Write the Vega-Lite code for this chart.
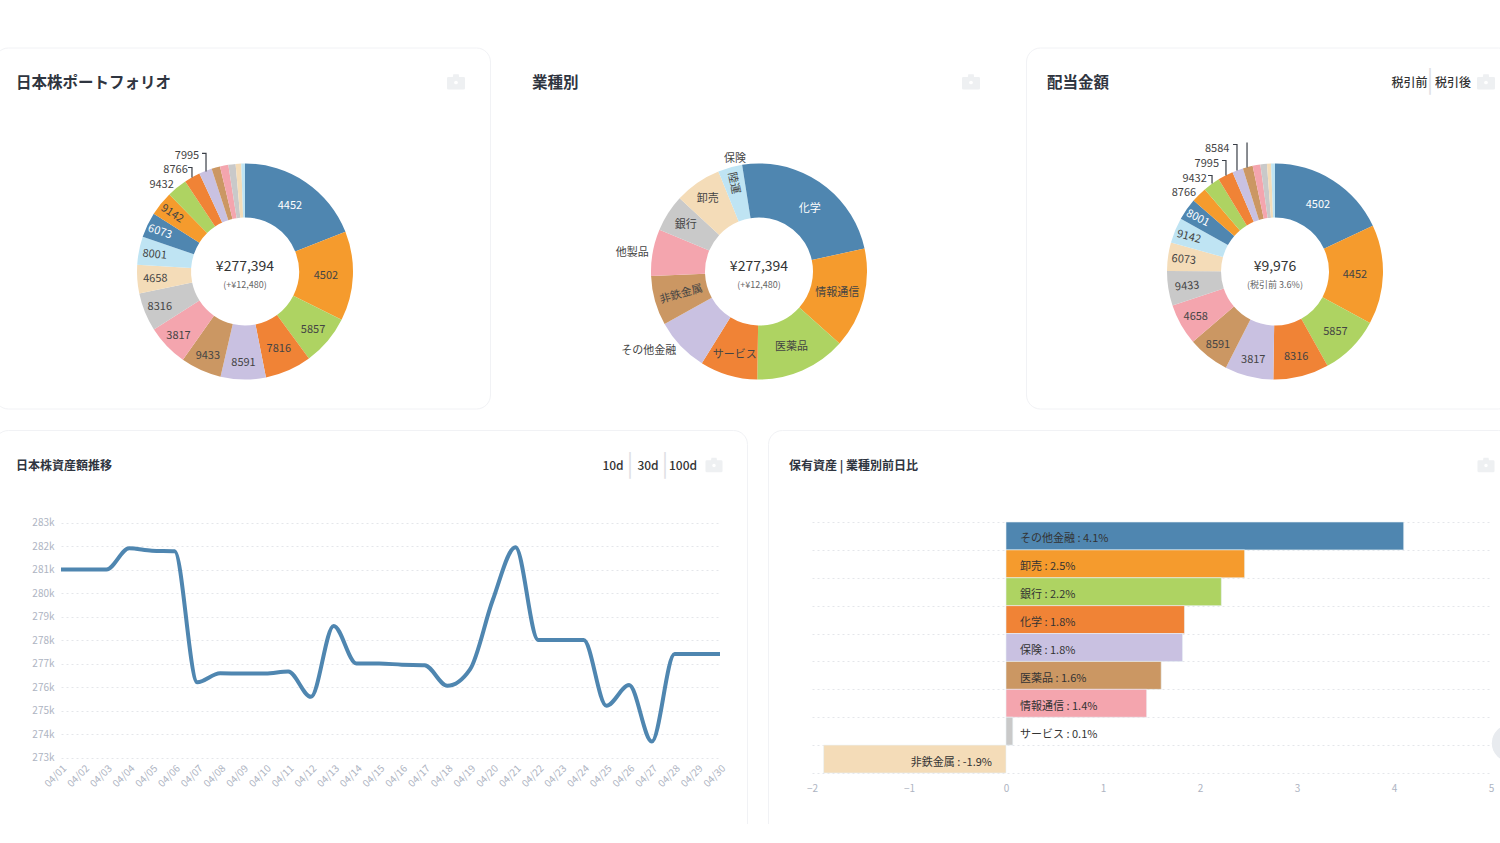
{"$schema":"https://vega.github.io/schema/vega-lite/v6.json","padding":{"left":-7,"right":-14,"top":46.5,"bottom":-16},"background":"white","spacing":19.5,"config":{"font":"Noto Sans CJK JP","range":{"category":["#4f86b0","#f59b2d","#aed362","#f08336","#c9c1e1","#cb9763","#f4a5ae","#c9c9c9","#f4dcb8","#bfe4f3"]},"view":{"fill":"white","stroke":"#f1f2f5","cornerRadius":14},"title":{"anchor":"start","frame":"group","color":"#2f3540","fontWeight":700,"font":"Noto Sans CJK JP"},"text":{"font":"Noto Sans CJK JP"}},"vconcat":[{"hconcat":[{"width":496,"height":361,"title":{"text":"日本株ポートフォリオ","dx":22,"offset":-43.5,"fontSize":15.5},"data":{"values":[{"ord":0,"label":"4452","slot":"c0","v":52700},{"ord":1,"label":"4502","slot":"c1","v":37140},{"ord":2,"label":"5857","slot":"c2","v":20880},{"ord":3,"label":"7816","slot":"c3","v":19340},{"ord":4,"label":"8591","slot":"c4","v":18720},{"ord":5,"label":"9433","slot":"c5","v":16950},{"ord":6,"label":"3817","slot":"c6","v":17260},{"ord":7,"label":"8316","slot":"c7","v":15950},{"ord":8,"label":"4658","slot":"c8","v":11870},{"ord":9,"label":"8001","slot":"c9","v":11630},{"ord":10,"label":"6073","slot":"c0","v":10480},{"ord":11,"label":"9142","slot":"c1","v":10170},{"ord":12,"label":"9432","slot":"c2","v":8400},{"ord":13,"label":"8766","slot":"c3","v":6630},{"ord":14,"label":"7995","slot":"c4","v":5390},{"ord":15,"label":"","slot":"c5","v":3540},{"ord":16,"label":"","slot":"c6","v":3470},{"ord":17,"label":"","slot":"c7","v":3000},{"ord":18,"label":"","slot":"c8","v":2310},{"ord":19,"label":"","slot":"c9","v":1540}]},"layer":[{"mark":{"type":"arc","radius":108,"radius2":54,"xOffset":3,"yOffset":43.5},"encoding":{"theta":{"field":"v","type":"quantitative","stack":true},"order":{"field":"ord"},"color":{"field":"slot","type":"nominal","legend":null}}},{"mark":{"type":"text","fontSize":11,"baseline":"middle","xOffset":3,"yOffset":43.5,"dy":1,"radius":{"expr":"({'4452':80,'4502':81,'5857':89,'7816':84,'8591':91,'9433':91,'3817':92,'8316':92,'4658':90,'8001':92,'6073':94,'9142':93,'9432':113,'8766':117,'7995':125})[datum.label]||90"},"angle":{"expr":"({'9142':33,'6073':18,'8001':6,'4658':358})[datum.label]||0"},"align":{"expr":"indexof(['9432','8766','7995'],datum.label)>=0?'right':'center'"},"fill":{"expr":"indexof(['4452','6073'],datum.label)>=0?'#ffffff':'#444444'"}},"encoding":{"theta":{"field":"v","type":"quantitative","stack":true},"order":{"field":"ord"},"text":{"field":"label"}}},{"data":{"values":[{"k":"a","s":0,"lx":-0.528,"ly":0.963},{"k":"a","s":1,"lx":-0.491,"ly":0.963},{"k":"a","s":2,"lx":-0.491,"ly":0.87},{"k":"b","s":0,"lx":-0.398,"ly":1.093},{"k":"b","s":1,"lx":-0.361,"ly":1.093},{"k":"b","s":2,"lx":-0.361,"ly":0.926}]},"mark":{"type":"line","color":"#3a3f47","strokeWidth":1.2},"encoding":{"x":{"field":"lx","type":"quantitative","axis":null,"scale":{"domain":[-1,1],"range":[143,359]}},"y":{"field":"ly","type":"quantitative","axis":null,"scale":{"domain":[-1,1],"range":[332,116]}},"detail":{"field":"k"},"order":{"field":"s"}}},{"data":{"values":[{"t":"¥277,394"}]},"mark":{"type":"text","fontSize":14,"color":"#333","baseline":"middle","xOffset":3,"yOffset":43.5,"dy":-5},"encoding":{"text":{"field":"t"}}},{"data":{"values":[{"t":"(+¥12,480)"}]},"mark":{"type":"text","fontSize":9,"color":"#666","baseline":"middle","xOffset":3,"yOffset":43.5,"dy":13},"encoding":{"text":{"field":"t"}}},{"data":{"values":[{"i":"camera"}]},"mark":{"type":"point","filled":true,"size":324,"color":"#eef0f2","opacity":1,"shape":"M-0.85,-0.5 L-0.35,-0.5 L-0.3,-0.8 L0.3,-0.8 L0.35,-0.5 L0.85,-0.5 Q1,-0.5 1,-0.35 L1,0.75 Q1,0.9 0.85,0.9 L-0.85,0.9 Q-1,0.9 -1,0.75 L-1,-0.35 Q-1,-0.5 -0.85,-0.5 Z","xOffset":214,"yOffset":-146.5},"encoding":{}},{"data":{"values":[{"i":"lens"}]},"mark":{"type":"point","filled":true,"size":14,"color":"#ffffff","opacity":1,"xOffset":214,"yOffset":-145.5},"encoding":{}}]},{"width":494,"height":361,"title":{"text":"業種別","dx":21,"offset":-43.5,"fontSize":15.5},"data":{"values":[{"ord":0,"label":"化学","slot":"c0","v":59870},{"ord":1,"label":"情報通信","slot":"c1","v":41610},{"ord":2,"label":"医薬品","slot":"c2","v":37880},{"ord":3,"label":"サービス","slot":"c3","v":23890},{"ord":4,"label":"その他金融","slot":"c4","v":22340},{"ord":5,"label":"非鉄金属","slot":"c5","v":20570},{"ord":6,"label":"他製品","slot":"c6","v":19340},{"ord":7,"label":"銀行","slot":"c7","v":15330},{"ord":8,"label":"卸売","slot":"c8","v":19420},{"ord":9,"label":"陸運","slot":"c9","v":10090},{"ord":10,"label":"保険","slot":"c0","v":6930}]},"layer":[{"mark":{"type":"arc","radius":108,"radius2":54,"xOffset":1,"yOffset":43.5},"encoding":{"theta":{"field":"v","type":"quantitative","stack":true},"order":{"field":"ord"},"color":{"field":"slot","type":"nominal","legend":null}}},{"mark":{"type":"text","fontSize":11,"baseline":"middle","xOffset":1,"yOffset":43.5,"dy":1,"dx":{"expr":"datum.label==='保険'?-4:0"},"radius":{"expr":"({'その他金融':114,'他製品':112,'保険':114,'陸運':92,'卸売':90,'銀行':87,'サービス':86})[datum.label]||81"},"angle":{"expr":"({'非鉄金属':344,'陸運':78})[datum.label]||0"},"align":{"expr":"indexof(['その他金融','他製品','保険'],datum.label)>=0?'right':'center'"},"fill":{"expr":"datum.label==='化学'?'#ffffff':'#444444'"}},"encoding":{"theta":{"field":"v","type":"quantitative","stack":true},"order":{"field":"ord"},"text":{"field":"label"}}},{"data":{"values":[{"t":"¥277,394"}]},"mark":{"type":"text","fontSize":14,"color":"#333","baseline":"middle","xOffset":1,"yOffset":43.5,"dy":-5},"encoding":{"text":{"field":"t"}}},{"data":{"values":[{"t":"(+¥12,480)"}]},"mark":{"type":"text","fontSize":9,"color":"#666","baseline":"middle","xOffset":1,"yOffset":43.5,"dy":13},"encoding":{"text":{"field":"t"}}},{"data":{"values":[{"i":"camera"}]},"mark":{"type":"point","filled":true,"size":324,"color":"#eef0f2","opacity":1,"shape":"M-0.85,-0.5 L-0.35,-0.5 L-0.3,-0.8 L0.3,-0.8 L0.35,-0.5 L0.85,-0.5 Q1,-0.5 1,-0.35 L1,0.75 Q1,0.9 0.85,0.9 L-0.85,0.9 Q-1,0.9 -1,0.75 L-1,-0.35 Q-1,-0.5 -0.85,-0.5 Z","xOffset":213,"yOffset":-146.5},"encoding":{}},{"data":{"values":[{"i":"lens"}]},"mark":{"type":"point","filled":true,"size":14,"color":"#ffffff","opacity":1,"xOffset":213,"yOffset":-145.5},"encoding":{}}]},{"width":486,"height":361,"title":{"text":"配当金額","dx":21,"offset":-43.5,"fontSize":15.5},"data":{"values":[{"ord":0,"label":"4502","slot":"c0","v":1801},{"ord":1,"label":"4452","slot":"c1","v":1482},{"ord":2,"label":"5857","slot":"c2","v":900},{"ord":3,"label":"8316","slot":"c3","v":831},{"ord":4,"label":"3817","slot":"c4","v":726},{"ord":5,"label":"8591","slot":"c5","v":621},{"ord":6,"label":"4658","slot":"c6","v":615},{"ord":7,"label":"9433","slot":"c7","v":515},{"ord":8,"label":"6073","slot":"c8","v":424},{"ord":9,"label":"9142","slot":"c9","v":380},{"ord":10,"label":"8001","slot":"c0","v":327},{"ord":11,"label":"8766","slot":"c1","v":233},{"ord":12,"label":"9432","slot":"c2","v":252},{"ord":13,"label":"7995","slot":"c3","v":230},{"ord":14,"label":"8584","slot":"c4","v":163},{"ord":15,"label":"","slot":"c5","v":147},{"ord":16,"label":"","slot":"c6","v":116},{"ord":17,"label":"","slot":"c7","v":97},{"ord":18,"label":"","slot":"c8","v":61},{"ord":19,"label":"","slot":"c9","v":58}]},"layer":[{"mark":{"type":"arc","radius":108,"radius2":54,"xOffset":6,"yOffset":43.5},"encoding":{"theta":{"field":"v","type":"quantitative","stack":true},"order":{"field":"ord"},"color":{"field":"slot","type":"nominal","legend":null}}},{"mark":{"type":"text","fontSize":11,"baseline":"middle","xOffset":6,"yOffset":43.5,"dy":1,"radius":{"expr":"({'4502':80,'4452':80,'5857':85,'8316':87,'3817':90,'8591':92,'4658':91,'9433':89,'6073':92,'9142':93,'8001':94,'8766':112,'9432':116,'7995':122,'8584':132})[datum.label]||90"},"angle":{"expr":"({'9433':355,'6073':5,'9142':15,'8001':27})[datum.label]||0"},"align":{"expr":"indexof(['8766','9432','7995','8584'],datum.label)>=0?'right':'center'"},"fill":{"expr":"indexof(['4502','8001'],datum.label)>=0?'#ffffff':'#444444'"}},"encoding":{"theta":{"field":"v","type":"quantitative","stack":true},"order":{"field":"ord"},"text":{"field":"label"}}},{"data":{"values":[{"k":"a","s":0,"lx":-0.62,"ly":0.889},{"k":"a","s":1,"lx":-0.583,"ly":0.889},{"k":"a","s":2,"lx":-0.583,"ly":0.815},{"k":"b","s":0,"lx":-0.491,"ly":1.028},{"k":"b","s":1,"lx":-0.454,"ly":1.028},{"k":"b","s":2,"lx":-0.454,"ly":0.889},{"k":"c","s":0,"lx":-0.389,"ly":1.176},{"k":"c","s":1,"lx":-0.352,"ly":1.176},{"k":"c","s":2,"lx":-0.352,"ly":0.935},{"k":"d","s":0,"lx":-0.259,"ly":1.194},{"k":"d","s":1,"lx":-0.259,"ly":0.963}]},"mark":{"type":"line","color":"#3a3f47","strokeWidth":1.2},"encoding":{"x":{"field":"lx","type":"quantitative","axis":null,"scale":{"domain":[-1,1],"range":[141,357]}},"y":{"field":"ly","type":"quantitative","axis":null,"scale":{"domain":[-1,1],"range":[332,116]}},"detail":{"field":"k"},"order":{"field":"s"}}},{"data":{"values":[{"t":"¥9,976"}]},"mark":{"type":"text","fontSize":14,"color":"#333","baseline":"middle","xOffset":6,"yOffset":43.5,"dy":-5},"encoding":{"text":{"field":"t"}}},{"data":{"values":[{"t":"(税引前 3.6%)"}]},"mark":{"type":"text","fontSize":9,"color":"#666","baseline":"middle","xOffset":6,"yOffset":43.5,"dy":13},"encoding":{"text":{"field":"t"}}},{"data":{"values":[{"t":"税引前"}]},"mark":{"type":"text","fontSize":12,"fontWeight":500,"color":"#333","baseline":"middle","dx":140.5,"dy":-145},"encoding":{"text":{"field":"t"}}},{"data":{"values":[{"t":"税引後"}]},"mark":{"type":"text","fontSize":12,"fontWeight":500,"color":"#333","baseline":"middle","dx":184,"dy":-145},"encoding":{"text":{"field":"t"}}},{"data":{"values":[{"t":"|"}]},"mark":{"type":"text","fontSize":24,"color":"#dfe1e5","baseline":"middle","dx":161,"dy":-147},"encoding":{"text":{"field":"t"}}},{"data":{"values":[{"i":"camera"}]},"mark":{"type":"point","filled":true,"size":324,"color":"#eef0f2","opacity":1,"shape":"M-0.85,-0.5 L-0.35,-0.5 L-0.3,-0.8 L0.3,-0.8 L0.35,-0.5 L0.85,-0.5 Q1,-0.5 1,-0.35 L1,0.75 Q1,0.9 0.85,0.9 L-0.85,0.9 Q-1,0.9 -1,0.75 L-1,-0.35 Q-1,-0.5 -0.85,-0.5 Z","xOffset":217,"yOffset":-146.5},"encoding":{}},{"data":{"values":[{"i":"lens"}]},"mark":{"type":"point","filled":true,"size":14,"color":"#ffffff","opacity":1,"xOffset":217,"yOffset":-145.5},"encoding":{}}]}],"spacing":21,"bounds":"flush"},{"hconcat":[{"width":753,"height":409,"title":{"text":"日本株資産額推移","dx":22,"offset":-43,"fontSize":12},"data":{"values":[{"d":"04/01","v":281000},{"d":"04/02","v":281000},{"d":"04/03","v":281000},{"d":"04/04","v":281900},{"d":"04/05","v":281800},{"d":"04/06","v":281780},{"d":"04/07","v":276200},{"d":"04/08","v":276580},{"d":"04/09","v":276570},{"d":"04/10","v":276570},{"d":"04/11","v":276660},{"d":"04/12","v":275580},{"d":"04/13","v":278600},{"d":"04/14","v":277000},{"d":"04/15","v":277000},{"d":"04/16","v":276950},{"d":"04/17","v":276930},{"d":"04/18","v":276050},{"d":"04/19","v":276750},{"d":"04/20","v":279700},{"d":"04/21","v":281950},{"d":"04/22","v":278000},{"d":"04/23","v":278000},{"d":"04/24","v":278000},{"d":"04/25","v":275200},{"d":"04/26","v":276080},{"d":"04/27","v":273680},{"d":"04/28","v":277400},{"d":"04/29","v":277400},{"d":"04/30","v":277400}]},"layer":[{"mark":{"type":"line","interpolate":"monotone","color":"#4f86b0","strokeWidth":4},"encoding":{"x":{"field":"d","type":"ordinal","scale":{"type":"point","padding":0,"range":[67,726]},"axis":{"title":null,"offset":-82,"labelAngle":-45,"labelOverlap":false,"labelColor":"#aeb4c2","labelFontSize":10,"ticks":false,"domain":false,"grid":false,"labelPadding":6}},"y":{"field":"v","type":"quantitative","scale":{"domain":[273000,283000],"range":[327.5,92.5]},"axis":{"title":null,"offset":-67,"values":[273000,274000,275000,276000,277000,278000,279000,280000,281000,282000,283000],"format":".3s","labelColor":"#aeb4c2","labelFontSize":10,"ticks":false,"domain":false,"grid":true,"gridColor":"#e4e6ea","gridDash":[2,3],"labelPadding":7}}}},{"data":{"values":[{"t":"10d"}]},"mark":{"type":"text","fontSize":12,"fontWeight":500,"color":"#333","baseline":"middle","dx":242.5,"dy":-168.5},"encoding":{"text":{"field":"t"}}},{"data":{"values":[{"t":"30d"}]},"mark":{"type":"text","fontSize":12,"fontWeight":500,"color":"#333","baseline":"middle","dx":277.5,"dy":-168.5},"encoding":{"text":{"field":"t"}}},{"data":{"values":[{"t":"100d"}]},"mark":{"type":"text","fontSize":12,"fontWeight":500,"color":"#333","baseline":"middle","dx":312.5,"dy":-168.5},"encoding":{"text":{"field":"t"}}},{"data":{"values":[{"t":"|"}]},"mark":{"type":"text","fontSize":24,"color":"#dfe1e5","baseline":"middle","dx":259.5,"dy":-170},"encoding":{"text":{"field":"t"}}},{"data":{"values":[{"t":"|"}]},"mark":{"type":"text","fontSize":24,"color":"#dfe1e5","baseline":"middle","dx":294.5,"dy":-170},"encoding":{"text":{"field":"t"}}},{"data":{"values":[{"i":"camera"}]},"mark":{"type":"point","filled":true,"size":289,"color":"#eef0f2","opacity":1,"shape":"M-0.85,-0.5 L-0.35,-0.5 L-0.3,-0.8 L0.3,-0.8 L0.35,-0.5 L0.85,-0.5 Q1,-0.5 1,-0.35 L1,0.75 Q1,0.9 0.85,0.9 L-0.85,0.9 Q-1,0.9 -1,0.75 L-1,-0.35 Q-1,-0.5 -0.85,-0.5 Z","xOffset":343.5,"yOffset":-170},"encoding":{}},{"data":{"values":[{"i":"lens"}]},"mark":{"type":"point","filled":true,"size":12,"color":"#ffffff","opacity":1,"xOffset":343.5,"yOffset":-169},"encoding":{}}]},{"width":744,"height":409,"title":{"text":"保有資産 | 業種別前日比","dx":21,"offset":-43,"fontSize":12},"data":{"values":[{"name":"その他金融","v":4.1,"slot":"c0","label":"その他金融 : 4.1%"},{"name":"卸売","v":2.46,"slot":"c1","label":"卸売 : 2.5%"},{"name":"銀行","v":2.22,"slot":"c2","label":"銀行 : 2.2%"},{"name":"化学","v":1.84,"slot":"c3","label":"化学 : 1.8%"},{"name":"保険","v":1.82,"slot":"c4","label":"保険 : 1.8%"},{"name":"医薬品","v":1.6,"slot":"c5","label":"医薬品 : 1.6%"},{"name":"情報通信","v":1.45,"slot":"c6","label":"情報通信 : 1.4%"},{"name":"サービス","v":0.07,"slot":"c7","label":"サービス : 0.1%"},{"name":"非鉄金属","v":-1.88,"slot":"c8","label":"非鉄金属 : -1.9%"}]},"layer":[{"mark":{"type":"bar","stroke":"#eaf1f6","strokeWidth":0.6},"encoding":{"y":{"field":"name","type":"nominal","scale":{"domain":["その他金融","卸売","銀行","化学","保険","医薬品","情報通信","サービス","非鉄金属"],"range":[92,343],"paddingInner":0,"paddingOuter":0},"axis":{"title":null,"labels":false,"ticks":false,"domain":false,"grid":true,"tickBand":"extent","gridColor":"#e4e6ea","gridDash":[2,3]}},"x":{"field":"v","type":"quantitative","scale":{"domain":[-2,5],"range":[44,723]},"axis":{"title":null,"offset":-66,"values":[-2,-1,0,1,2,3,4,5],"format":"d","labelFlush":false,"grid":false,"ticks":false,"domain":false,"labelColor":"#aeb4c2","labelFontSize":10,"labelPadding":10}},"color":{"field":"slot","type":"nominal","legend":null}}},{"transform":[{"filter":"datum.v>=0"}],"mark":{"type":"text","fontSize":11,"color":"#333","align":"left","baseline":"middle","dx":14,"dy":3.5},"encoding":{"x":{"datum":0,"type":"quantitative"},"y":{"field":"name","type":"nominal","title":null},"text":{"field":"label"}}},{"transform":[{"filter":"datum.v<0"}],"mark":{"type":"text","fontSize":11,"color":"#333","align":"right","baseline":"middle","dx":-14,"dy":3.5},"encoding":{"x":{"datum":0,"type":"quantitative"},"y":{"field":"name","type":"nominal","title":null},"text":{"field":"label"}}},{"data":{"values":[{"i":"floating button"}]},"mark":{"type":"point","filled":true,"size":1385,"color":"#e8ebef","opacity":1,"yOffset":12},"encoding":{"x":{"datum":5.2,"type":"quantitative"},"y":{"datum":"サービス","type":"nominal"}}},{"data":{"values":[{"i":"camera"}]},"mark":{"type":"point","filled":true,"size":289,"color":"#eef0f2","opacity":1,"shape":"M-0.85,-0.5 L-0.35,-0.5 L-0.3,-0.8 L0.3,-0.8 L0.35,-0.5 L0.85,-0.5 Q1,-0.5 1,-0.35 L1,0.75 Q1,0.9 0.85,0.9 L-0.85,0.9 Q-1,0.9 -1,0.75 L-1,-0.35 Q-1,-0.5 -0.85,-0.5 Z","xOffset":346,"yOffset":-170},"encoding":{}},{"data":{"values":[{"i":"lens"}]},"mark":{"type":"point","filled":true,"size":12,"color":"#ffffff","opacity":1,"xOffset":346,"yOffset":-169},"encoding":{}}]}],"spacing":21,"bounds":"flush"}]}
